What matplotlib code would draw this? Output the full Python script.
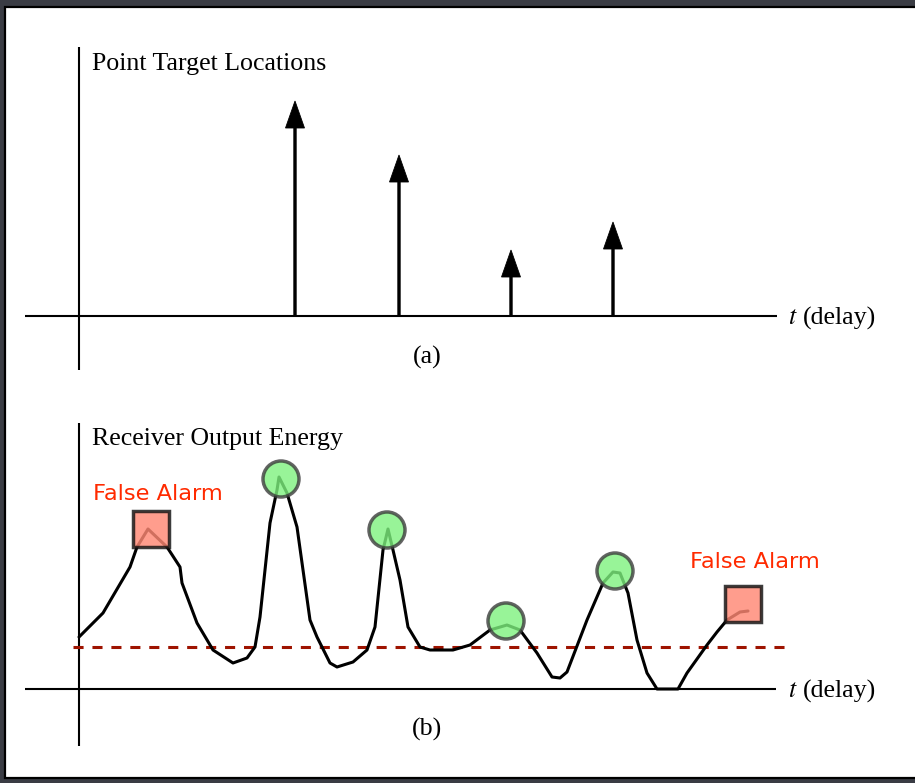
import matplotlib
matplotlib.use("Agg")
import matplotlib.pyplot as plt
from matplotlib.patches import Rectangle, Circle

# ---------------- data ----------------
# (a) point targets: delay and amplitude
target_delay = [216, 320, 432, 534]
target_amp = [215, 161, 66, 94]

# (b) receiver output energy curve
energy_t = [0, 24, 51, 58, 69, 88, 101, 103, 118, 134, 154, 168, 176, 181, 191, 198, 200,
            208, 218, 231, 238, 251, 258, 274, 288, 296, 304, 309, 314, 321, 329, 341, 351,
            374, 391, 411, 428, 441, 458, 473, 481, 488, 508, 524, 534, 541, 549, 558, 568,
            578, 599, 608, 628, 638, 648, 661, 669]
energy_v = [52, 76, 122, 142, 160, 142, 122, 106, 66, 39, 26, 31, 42, 72, 166, 199, 212,
            196, 162, 69, 52, 26, 22, 27, 39, 62, 139, 160, 139, 109, 62, 42, 39,
            39, 44, 59, 64, 59, 36, 12, 11, 17, 69, 106, 117, 116, 96, 49, 16,
            0, 0, 16, 44, 57, 69, 77, 78]
threshold = 42
threshold_span = [-6, 708]

detect_t = [202, 308, 427, 536]
detect_v = [210, 159, 68, 118]
false_t = [72, 664]
false_v = [160, 85]

title_a = "Point Target Locations"
title_b = "Receiver Output Energy"
xlabel = "(delay)"
fa_label = "False Alarm"

W, H = 915, 783
fig = plt.figure(figsize=(W / 100, H / 100), dpi=100)
fig.patch.set_facecolor("#3a3c44")

# white panel with black frame
bg = fig.add_axes([0, 0, 1, 1])
bg.set_xlim(0, W)
bg.set_ylim(H, 0)
bg.axis("off")
bg.add_patch(Rectangle((5, 7), W + 10, 771, facecolor="white", edgecolor="black", lw=1.6))

serif = "Liberation Serif"
fs = 18.6
lw_axis = 1.5


def make_axes(top_px, bot_px, base_px):
    ax = fig.add_axes([0, (H - bot_px) / H, 1, (bot_px - top_px) / H])
    ax.set_xlim(-79, W - 79)
    ax.set_ylim(base_px - bot_px, base_px - top_px)
    ax.axis("off")
    return ax


def delay_label(ax):
    ax.text(709, -2, r"$t$", family=serif, fontsize=fs, va="center", ha="left",
            math_fontfamily="stix")
    ax.text(724, -2, xlabel, family=serif, fontsize=fs, va="center", ha="left")


# ---------------- (a) ----------------
axa = make_axes(8, 390, 316)
axa.plot([-54, 698], [0, 0], color="black", lw=lw_axis, solid_capstyle="butt")
axa.plot([0, 0], [-54, 269], color="black", lw=lw_axis, solid_capstyle="butt")
for t, a in zip(target_delay, target_amp):
    axa.arrow(t, 0, 0, a, width=2.4, head_width=19, head_length=27,
              length_includes_head=True, fc="black", ec="black", lw=0.6)
axa.text(13, 252, title_a, family=serif, fontsize=fs, va="center", ha="left")
axa.text(348, -41, "(a)", family=serif, fontsize=fs, va="center", ha="center")
delay_label(axa)

# ---------------- (b) ----------------
axb = make_axes(395, 777, 689)
axb.plot([-54, 697], [0, 0], color="black", lw=lw_axis, solid_capstyle="butt")
axb.plot([0, 0], [-57, 266], color="black", lw=lw_axis, solid_capstyle="butt")
axb.plot(threshold_span, [threshold, threshold], color="#9e1300", lw=2.2,
         linestyle=(0, (3.3, 2.9)))
axb.plot(energy_t, energy_v, color="black", lw=2.2, solid_joinstyle="round",
         solid_capstyle="round", zorder=3)
for t, v in zip(detect_t, detect_v):
    axb.add_patch(Circle((t, v), 18, facecolor="#7ef27e", edgecolor="#3c3c3c",
                         lw=2.5, alpha=0.8, zorder=4))
for t, v in zip(false_t, false_v):
    axb.add_patch(Rectangle((t - 18, v - 18), 36, 36, facecolor="#ff8874",
                            edgecolor="#111111", lw=2.5, alpha=0.82, zorder=4))
axb.text(14, 195, fa_label, family="DejaVu Sans", fontsize=16.2, color="#ff2a00",
         va="center", ha="left")
axb.text(611, 127, fa_label, family="DejaVu Sans", fontsize=16.2, color="#ff2a00",
         va="center", ha="left")
axb.text(13, 250, title_b, family=serif, fontsize=fs, va="center", ha="left")
axb.text(348, -40, "(b)", family=serif, fontsize=fs, va="center", ha="center")
delay_label(axb)

fig.savefig("out.png", dpi=100, facecolor=fig.get_facecolor())
